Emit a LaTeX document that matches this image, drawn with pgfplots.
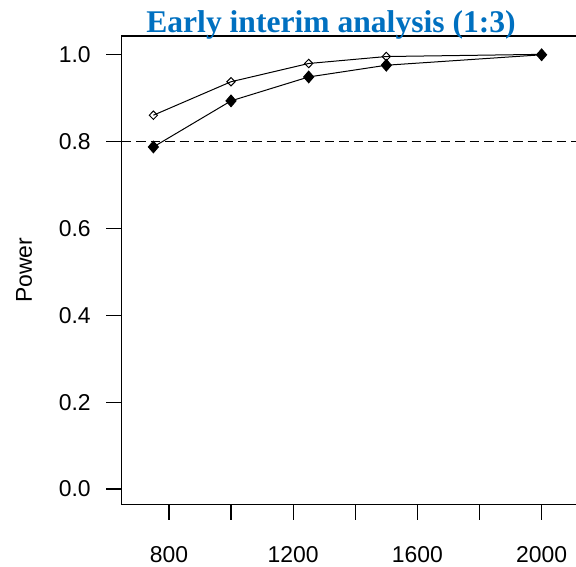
\documentclass[border=0pt]{standalone}
\usepackage{pgfplots}
\pgfplotsset{compat=1.18}
\usepackage{fontspec}
\setmainfont{Liberation Sans}
\newfontfamily\titlefont{Liberation Serif}
\definecolor{titleblue}{RGB}{0,112,192}

\begin{document}
\begin{tikzpicture}
\begin{axis}[
    at={(121.7bp,62.7bp)}, anchor=south west,
    scale only axis,
    width=466.5bp, height=468.2bp,
    xmin=648, xmax=2150,
    ymin=-0.035, ymax=1.042,
    axis line style={line width=1.2bp},
    tick align=outside,
    xtick pos=bottom, ytick pos=left,
    major tick length=15.5bp,
    tick style={line width=1.2bp, black},
    xtick={800,1000,1200,1400,1600,1800,2000},
    xticklabels={800,,1200,,1600,,2000},
    ytick={0,0.2,0.4,0.6,0.8,1.0},
    yticklabels={0.0,0.2,0.4,0.6,0.8,1.0},
    ticklabel style={font=\fontsize{23}{23}\selectfont},
    xticklabel style={yshift=-23bp},
    yticklabel style={xshift=-12bp},
    ylabel={Power},
    ylabel style={font=\fontsize{23}{23}\selectfont, at={(axis description cs:-0.2094,0.5)}, anchor=center},
    clip=false,
]
% reference line at 0.8
\addplot[black, line width=1.1bp, dash pattern=on 9.5bp off 5bp] coordinates {(648,0.8)(2150,0.8)};

% open markers
\addplot[black, line width=1bp, mark=diamond, mark size=4.2bp,
    mark options={solid, line width=1bp, xscale=1.3}]
    coordinates {(750,0.860)(1000,0.937)(1250,0.979)(1500,0.995)(2000,1.000)};

% filled markers
\addplot[black, line width=1bp, mark=diamond*, mark size=5.8bp,
    mark options={solid, fill=black, xscale=1.15}]
    coordinates {(750,0.787)(1000,0.893)(1250,0.948)(1500,0.975)(2000,0.999)};
\end{axis}
\node[anchor=base, text=titleblue, font=\titlefont\bfseries\fontsize{31.7}{32}\selectfont, inner sep=0pt]
    at (331bp,534bp) {Early interim analysis (1:3)};
\pgfresetboundingbox
\path[use as bounding box] (0,0) rectangle (576bp,567bp);
\end{tikzpicture}
\end{document}
